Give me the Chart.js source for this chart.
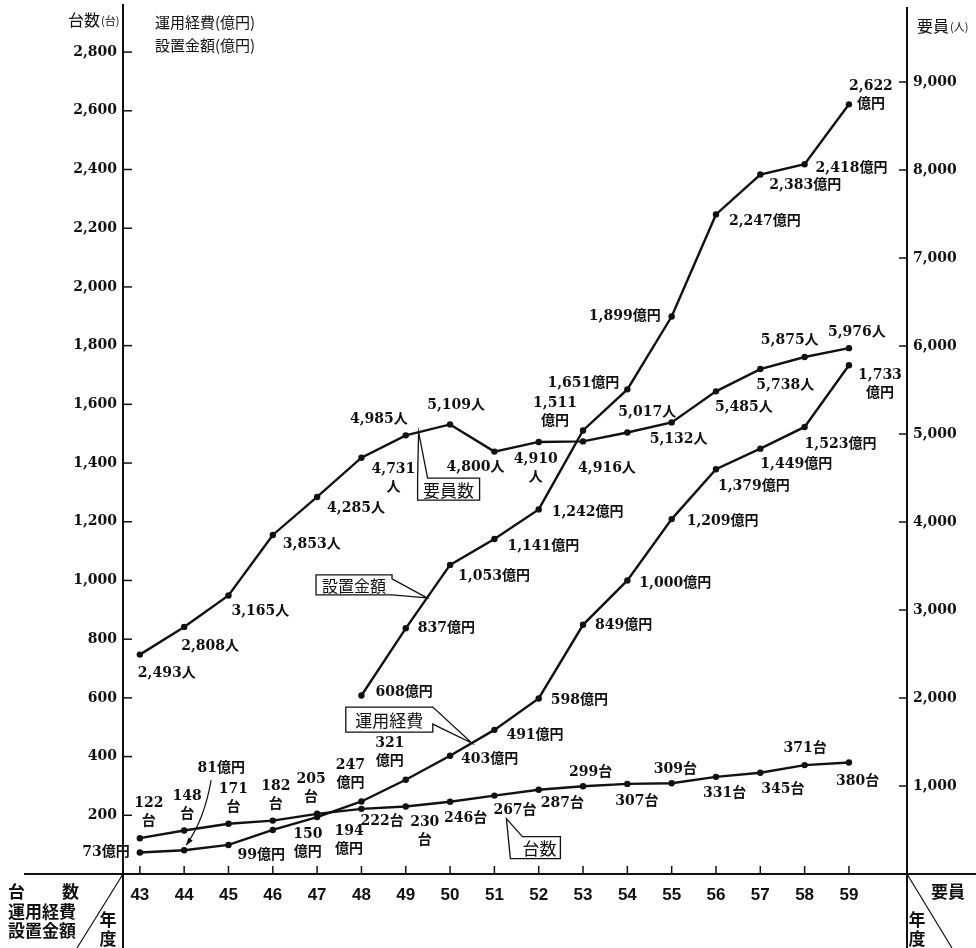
<!DOCTYPE html>
<html>
<head>
<meta charset="utf-8">
<script src="https://cdn.jsdelivr.net/npm/chart.js@4.4.1/dist/chart.umd.min.js"></script>
<style>
body { margin: 0; background: #fff; }
#wrap { width: 976px; height: 948px; }
</style>
</head>
<body>
<div id="wrap"><canvas id="chart" width="976" height="948"></canvas></div>
<script>
// fiscal years (Showa)
const years = [43,44,45,46,47,48,49,50,51,52,53,54,55,56,57,58,59];

// 台数
const units = [122,148,171,182,205,222,230,246,267,287,299,307,309,331,345,371,380];
// 運用経費 (億円)
const opCost = [73,81,99,150,194,247,321,403,491,598,849,1000,1209,1379,1449,1523,1733];
// 設置金額 (億円) - starts at 48
const installYears = [48,49,50,51,52,53,54,55,56,57,58,59];
const installAmt = [608,837,1053,1141,1242,1511,1651,1899,2247,2383,2418,2622];
// 要員 (人)
const staff = [2493,2808,3165,3853,4285,4731,4985,5109,4800,4910,4916,5017,5132,5485,5738,5875,5976];

// tick labels
const leftTicks = [200,400,600,800,1000,1200,1400,1600,1800,2000,2200,2400,2600,2800];
const rightTicks = [1000,2000,3000,4000,5000,6000,7000,8000,9000];

// label placement [dx, dy, align, wrap] (relative to each point)
const unitsPos = [[9,-26,'c',1],[3,-25,'c',1],[5,-25,'c',1],[3,-25,'c',1],[-6,-25,'c',1],[-1,13,'l',0],[19,25,'c',1],[-6,17,'l',0],[-1,15,'l',0],[2,14,'l',0],[-14,-14,'l',0],[-12,17,'l',0],[-18,-14,'l',0],[-13,17,'l',0],[1,17,'l',0],[-21,-17,'l',0],[-13,19,'l',0]];
const opPos = [[-10,0,'r',0],[37,-82,'c',0],[9,10,'l',0],[35,13,'c',1],[32,23,'c',1],[-11,-27,'c',1],[-16,-27,'c',1],[11,4,'l',0],[12,5,'l',0],[12,2,'l',0],[12,1,'l',0],[12,3,'l',0],[15,2,'l',0],[2,17,'l',0],[0,16,'l',0],[0,17,'l',0],[31,19,'c',1]];
const instPos = [[14,-3,'l',0],[12,0,'l',0],[8,11,'l',0],[13,7,'l',0],[13,3,'l',0],[-28,-18,'c',1],[-8,-6,'r',0],[-11,0,'r',0],[13,7,'l',0],[9,11,'l',0],[11,4,'l',0],[22,-9,'c',1]];
const staffPos = [[-2,19,'l',0],[-3,19,'l',0],[3,16,'l',0],[10,9,'l',0],[10,11,'l',0],[32,21,'c',1],[2,-16,'r',0],[6,-19,'c',0],[10,16,'r',0],[-3,26,'c',1],[-5,27,'l',0],[-9,-20,'l',0],[-22,17,'l',0],[-1,16,'l',0],[-4,16,'l',0],[14,-17,'r',0],[-21,-16,'l',0]];

const INK = '#111';
const LBL_FONT = "bold 14px 'DejaVu Serif', 'Noto Sans CJK JP', serif";
const JP_FONT = "'Noto Sans CJK JP', sans-serif";

function pts(xs, ys) { return xs.map((x, i) => ({ x: x, y: ys[i] })); }
function fmt(v) { return v.toLocaleString('en-US'); }

function line(ctx, x1, y1, x2, y2) {
  ctx.beginPath(); ctx.moveTo(x1, y1); ctx.lineTo(x2, y2); ctx.stroke();
}

// fixed axis sizes, no extra label overhang padding
function fixSize(w, h) {
  return s => {
    if (w) s.width = w;
    if (h) s.height = h;
    s.paddingTop = 0; s.paddingBottom = 0; s.paddingLeft = 0; s.paddingRight = 0;
  };
}

// label info per dataset
const labelSets = [
  { vals: units, unit: '台', pos: unitsPos },
  { vals: opCost, unit: '億円', pos: opPos },
  { vals: installAmt, unit: '億円', pos: instPos },
  { vals: staff, unit: '人', pos: staffPos }
];

// callout boxes: dataset, segment start index, t along segment, box rel. to anchor
const callouts = [
  { ds: 1, seg: 7, t: 0.49, text: '運用経費', box: [-126, -36, 87, 25], size: 17, kind: 'right' },
  { ds: 2, seg: 1, t: 0.48, text: '設置金額', box: [-111, -23, 76, 20], size: 16, kind: 'right2' },
  { ds: 3, seg: 6, t: 0.29, text: '要員数', box: [-1, 46, 62, 22], size: 17, kind: 'up' },
  { ds: 0, seg: 8, t: 0, text: '台数', box: [4, 18, 50, 22], size: 17, kind: 'upleft', shift: [12, 23] }
];

const dataLabels = {
  id: 'dataLabels',
  afterDatasetsDraw(chart) {
    const ctx = chart.ctx;
    ctx.save();
    ctx.fillStyle = INK;
    ctx.font = LBL_FONT;
    ctx.textBaseline = 'middle';
    labelSets.forEach((set, di) => {
      const meta = chart.getDatasetMeta(di);
      meta.data.forEach((el, i) => {
        const p = set.pos[i];
        const lines = p[3] ? [fmt(set.vals[i]), set.unit] : [fmt(set.vals[i]) + set.unit];
        ctx.textAlign = p[2] === 'l' ? 'left' : (p[2] === 'r' ? 'right' : 'center');
        const lh = 18;
        const y0 = el.y + p[1] - (lines.length - 1) * lh / 2;
        lines.forEach((s, k) => ctx.fillText(s, el.x + p[0], y0 + k * lh));
      });
    });

    // arrow for 81億円
    const e = chart.getDatasetMeta(1).data[1];
    const sx = e.x + 27, sy = e.y - 70, ex = e.x + 2, ey = e.y - 5;
    ctx.strokeStyle = INK;
    ctx.lineWidth = 1.2;
    ctx.beginPath();
    ctx.moveTo(sx, sy);
    ctx.quadraticCurveTo(e.x + 20, e.y - 30, ex, ey);
    ctx.stroke();
    const ang = Math.atan2(ey - (e.y - 30), ex - (e.x + 20));
    ctx.beginPath();
    ctx.moveTo(ex, ey);
    ctx.lineTo(ex - 8 * Math.cos(ang - 0.35), ey - 8 * Math.sin(ang - 0.35));
    ctx.lineTo(ex - 8 * Math.cos(ang + 0.35), ey - 8 * Math.sin(ang + 0.35));
    ctx.closePath();
    ctx.fill();

    // callout boxes
    callouts.forEach(c => {
      const d = chart.getDatasetMeta(c.ds).data;
      const a0 = d[c.seg], a1 = d[c.seg + 1];
      let ax = a0.x + (a1.x - a0.x) * c.t, ay = a0.y + (a1.y - a0.y) * c.t;
      if (c.shift) { ax += c.shift[0]; ay += c.shift[1]; }
      const L = ax + c.box[0], T = ay + c.box[1], R = L + c.box[2], B = T + c.box[3];
      ctx.beginPath();
      if (c.kind === 'right') {
        ctx.moveTo(L, T); ctx.lineTo(R, T); ctx.lineTo(ax, ay); ctx.lineTo(R, T + 17); ctx.lineTo(R, B); ctx.lineTo(L, B);
      } else if (c.kind === 'right2') {
        ctx.moveTo(L, T); ctx.lineTo(R, T); ctx.lineTo(R, T + 4); ctx.lineTo(ax, ay); ctx.lineTo(R, B); ctx.lineTo(L, B);
      } else if (c.kind === 'up') {
        ctx.moveTo(L, B); ctx.lineTo(L, T); ctx.lineTo(ax, ay); ctx.lineTo(L + 10, T); ctx.lineTo(R, T); ctx.lineTo(R, B);
      } else {
        ctx.moveTo(L, B); ctx.lineTo(ax, ay); ctx.lineTo(L + 12, T); ctx.lineTo(R, T); ctx.lineTo(R, B);
      }
      ctx.closePath();
      ctx.fillStyle = '#fff';
      ctx.fill();
      ctx.lineWidth = 1.3;
      ctx.stroke();
      ctx.fillStyle = INK;
      ctx.font = c.size + 'px ' + JP_FONT;
      ctx.textAlign = 'center';
      ctx.fillText(c.text, (L + R) / 2 + (c.kind === 'upleft' ? 4 : 0), (T + B) / 2 + 1);
      ctx.font = LBL_FONT;
    });
    ctx.restore();
  }
};

const decor = {
  id: 'decor',
  afterDraw(chart) {
    const ctx = chart.ctx, a = chart.chartArea;
    const yL = chart.scales.y, yR = chart.scales.y1, xs = chart.scales.x;
    ctx.save();
    ctx.strokeStyle = INK;
    ctx.fillStyle = INK;

    // axis lines
    ctx.lineWidth = 2;
    line(ctx, 24, a.bottom, 976, a.bottom);
    line(ctx, a.left, 4, a.left, 948);
    line(ctx, a.right, 7, a.right, 948);

    // inward tick marks
    ctx.lineWidth = 1.5;
    leftTicks.forEach(v => { const py = yL.getPixelForValue(v); line(ctx, a.left, py, a.left + 9, py); });
    rightTicks.forEach(v => { const py = yR.getPixelForValue(v); line(ctx, a.right - 8, py, a.right, py); });
    years.forEach(v => { const px = xs.getPixelForValue(v); line(ctx, px, a.bottom, px, a.bottom - 8); });

    // table corner diagonals
    ctx.lineWidth = 1.2;
    line(ctx, a.left, a.bottom, 77, 948);
    line(ctx, a.right, a.bottom, 952, 948);

    ctx.textBaseline = 'middle';
    ctx.textAlign = 'left';
    // axis titles
    ctx.font = '16px ' + JP_FONT;
    ctx.fillText('台数', 68, 20);
    ctx.fillText('要員', 917, 26);
    ctx.font = '11px ' + JP_FONT;
    ctx.fillText('(台)', 101, 21);
    ctx.fillText('(人)', 950, 27);
    ctx.font = '15px ' + JP_FONT;
    ctx.fillText('運用経費(億円)', 155, 22);
    ctx.fillText('設置金額(億円)', 155, 45);

    // bottom corner headers
    ctx.font = 'bold 17px ' + JP_FONT;
    ctx.fillText('台', 8, 892);
    ctx.fillText('数', 62, 892);
    ctx.fillText('運用経費', 8, 912);
    ctx.fillText('設置金額', 8, 931);
    ctx.fillText('要員', 931, 892);
    ctx.textAlign = 'center';
    ctx.fillText('年', 108, 920);
    ctx.fillText('度', 108, 939);
    ctx.fillText('年', 917, 920);
    ctx.fillText('度', 917, 939);
    ctx.restore();
  }
};

const lineStyle = {
  borderColor: INK,
  backgroundColor: INK,
  borderWidth: 2.4,
  pointRadius: 3.2,
  pointBackgroundColor: INK,
  pointBorderWidth: 0,
  tension: 0,
  fill: false
};

new Chart(document.getElementById('chart'), {
  type: 'line',
  data: {
    datasets: [
      Object.assign({ label: '台数', data: pts(years, units), yAxisID: 'y' }, lineStyle),
      Object.assign({ label: '運用経費', data: pts(years, opCost), yAxisID: 'y' }, lineStyle),
      Object.assign({ label: '設置金額', data: pts(installYears, installAmt), yAxisID: 'y' }, lineStyle),
      Object.assign({ label: '要員数', data: pts(years, staff), yAxisID: 'y1' }, lineStyle)
    ]
  },
  options: {
    responsive: false,
    animation: false,
    layout: { padding: { top: 6 } },
    plugins: { legend: { display: false }, tooltip: { enabled: false } },
    scales: {
      x: {
        type: 'linear',
        min: 42.62,
        max: 60.31,
        grid: { display: false, drawTicks: false },
        border: { display: false },
        afterBuildTicks: s => { s.ticks = years.map(v => ({ value: v })); },
        afterFit: fixSize(0, 74),
        ticks: {
          color: INK, padding: 11, maxRotation: 0, autoSkip: false,
          font: { family: "'Liberation Sans', sans-serif", size: 17, weight: 'bold' },
          callback: v => String(v)
        }
      },
      y: {
        position: 'left',
        min: 0,
        max: 2957,
        grid: { display: false, drawTicks: false },
        border: { display: false },
        afterBuildTicks: s => { s.ticks = leftTicks.map(v => ({ value: v })); },
        afterFit: fixSize(123, 0),
        ticks: {
          color: INK, padding: 6,
          font: { family: "'DejaVu Serif', serif", size: 14, weight: 'bold' },
          callback: v => fmt(v)
        }
      },
      y1: {
        position: 'right',
        min: 0,
        max: 9864,
        grid: { display: false, drawTicks: false },
        border: { display: false },
        afterBuildTicks: s => { s.ticks = rightTicks.map(v => ({ value: v })); },
        afterFit: fixSize(69, 0),
        ticks: {
          color: INK, padding: 6,
          font: { family: "'DejaVu Serif', serif", size: 14, weight: 'bold' },
          callback: v => fmt(v)
        }
      }
    }
  },
  plugins: [dataLabels, decor]
});
</script>
</body>
</html>
